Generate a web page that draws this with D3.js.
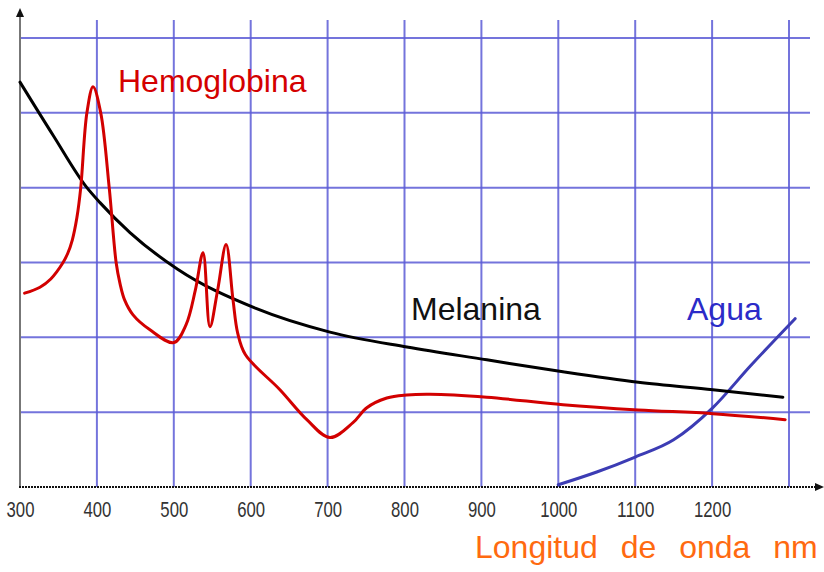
<!DOCTYPE html>
<html>
<head>
<meta charset="utf-8">
<script src="https://cdn.jsdelivr.net/npm/d3@7"></script>
<style>
    body { margin: 0; background: #fff; }
    svg { display: block; }
</style>
</head>
<body>
<svg id="chart"></svg>
<script>
// 数据
var xTicks = [300, 400, 500, 600, 700, 800, 900, 1000, 1100, 1200];
var xGrid = [400, 500, 600, 700, 800, 900, 1000, 1100, 1200, 1300];
var yGrid = [1, 2, 3, 4, 5, 6];

var hemoNm = [306, 326, 340, 356, 362, 368, 374, 379, 387, 395, 405, 416, 425, 430, 436, 447, 469, 500, 516, 528, 538, 547, 557, 568, 577, 583, 593, 638, 673, 703, 733, 751, 777, 803, 833, 907, 1006, 1104, 1201, 1295];
var hemoVal = [2.59, 2.67, 2.78, 3.0, 3.12, 3.3, 3.6, 4.0, 5.0, 5.35, 5.0, 4.0, 3.0, 2.72, 2.5, 2.3, 2.1, 1.93, 2.17, 2.63, 3.13, 2.14, 2.63, 3.24, 2.5, 2.06, 1.77, 1.3, 0.9, 0.66, 0.86, 1.06, 1.19, 1.23, 1.24, 1.2, 1.1, 1.03, 0.98, 0.9];

var melNm = [300, 343, 387, 404, 443, 505, 606, 703, 803, 907, 1006, 1104, 1201, 1292];
var melVal = [5.41, 4.7, 4.0, 3.8, 3.4, 2.91, 2.39, 2.07, 1.87, 1.7, 1.54, 1.4, 1.3, 1.2];

var aguaNm = [1000, 1050, 1100, 1150, 1200, 1250, 1308];
var aguaVal = [0.03, 0.2, 0.4, 0.63, 1.05, 1.62, 2.25];

var width = 824, height = 572;
var svg = d3.select('#chart').attr('width', width).attr('height', height);

// 比例尺
var x = d3.scaleLinear().domain([300, 1300]).range([20, 789]);
var y = d3.scaleLinear().domain([0, 6]).range([487, 38]);

// 网格
svg.append('g')
    .selectAll('line')
    .data(xGrid)
    .enter()
    .append('line')
    .attr('x1', function(d) { return x(d); })
    .attr('x2', function(d) { return x(d); })
    .attr('y1', 20)
    .attr('y2', y(0))
    .attr('stroke', '#5c5cd6')
    .attr('stroke-opacity', 0.85)
    .attr('stroke-width', 2);

svg.append('g')
    .selectAll('line')
    .data(yGrid)
    .enter()
    .append('line')
    .attr('x1', x(300))
    .attr('x2', 810)
    .attr('y1', function(d) { return y(d); })
    .attr('y2', function(d) { return y(d); })
    .attr('stroke', '#5c5cd6')
    .attr('stroke-opacity', 0.85)
    .attr('stroke-width', 2);

// 坐标轴
svg.append('line')
    .attr('x1', x(300)).attr('x2', x(300))
    .attr('y1', 12).attr('y2', y(0) + 1)
    .attr('stroke', '#777').attr('stroke-width', 2);
svg.append('path')
    .attr('d', 'M' + x(300) + ',8 l-4,9 l8,0 z')
    .attr('fill', '#111');

svg.append('line')
    .attr('x1', x(300) - 1).attr('x2', 818)
    .attr('y1', y(0)).attr('y2', y(0))
    .attr('stroke', '#111').attr('stroke-width', 2)
    .attr('stroke-dasharray', '2,1');
svg.append('path')
    .attr('d', 'M824,' + y(0) + ' l-9,-4 l0,8 z')
    .attr('fill', '#111');

var xAxis = d3.axisBottom(x).tickValues(xTicks).tickFormat(d3.format('d')).tickSize(0).tickPadding(0);
var gx = svg.append('g')
    .attr('transform', 'translate(0,' + y(0) + ')')
    .call(xAxis);
gx.select('.domain').remove();
// 窄体数字
gx.selectAll('text')
    .attr('dy', null)
    .attr('y', 30)
    .attr('fill', '#333')
    .attr('textLength', function(d) { return String(d).length * 9.3; })
    .attr('lengthAdjust', 'spacingAndGlyphs')
    .style('font-family', '"Liberation Sans", sans-serif')
    .style('font-size', '22px');

// 曲线
var line = d3.line()
    .x(function(d) { return x(d[0]); })
    .y(function(d) { return y(d[1]); });

function drawCurve(nm, val, color, curve) {
    svg.append('path')
        .datum(d3.zip(nm, val))
        .attr('fill', 'none')
        .attr('stroke', color)
        .attr('stroke-width', 3)
        .attr('stroke-linejoin', 'round')
        .attr('stroke-linecap', 'round')
        .attr('d', line.curve(curve));
}
drawCurve(aguaNm, aguaVal, '#3c3cb4', d3.curveMonotoneX);
drawCurve(melNm, melVal, '#000', d3.curveMonotoneX);
drawCurve(hemoNm, hemoVal, '#d20000', d3.curveCatmullRom.alpha(0.5));

// 标签
function label(text, px, py, color, extra) {
    var t = svg.append('text')
        .attr('x', px)
        .attr('y', py)
        .attr('fill', color)
        .style('font-family', '"Liberation Sans", Arial, sans-serif')
        .style('font-size', '32px')
        .text(text);
    if (extra) t.style('word-spacing', extra);
    return t;
}
label('Hemoglobina', 118, 92, '#d40000');
label('Melanina', 411, 320, '#111');
label('Agua', 687, 320, '#2b2bc8');
label('Longitud de onda nm', 475, 558, '#ff6a10', '14px');
</script>
</body>
</html>
